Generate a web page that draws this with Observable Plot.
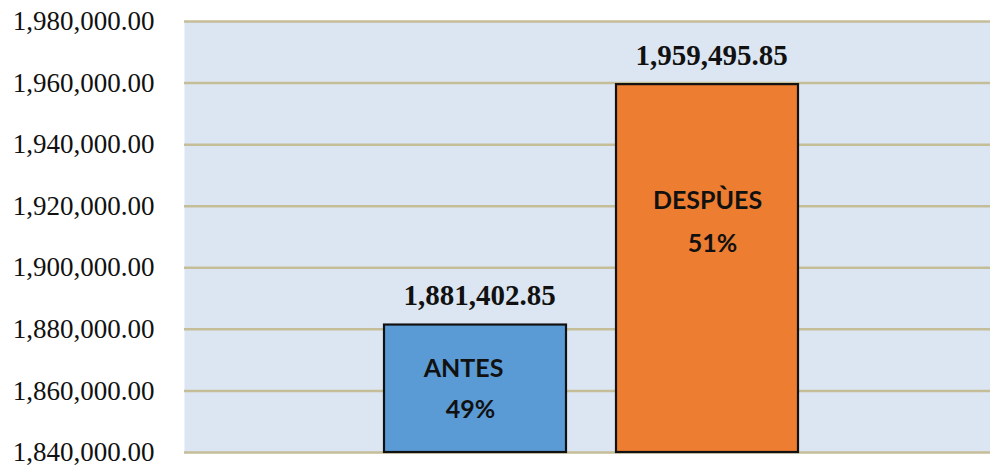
<!DOCTYPE html>
<html>
<head>
<meta charset="utf-8">
<script src="https://cdn.jsdelivr.net/npm/d3@7"></script>
<script src="https://cdn.jsdelivr.net/npm/@observablehq/plot@0.6"></script>
<style>
  html, body { margin: 0; padding: 0; background: #ffffff; }
  #chart svg { display: block; }
</style>
</head>
<body>
<div id="chart"></div>
<script>
const categories = ["ANTES", "DESPÙES"];
const values = [1881402.85, 1959495.85];
const percents = ["49%", "51%"];
const yTicks = [1840000, 1860000, 1880000, 1900000, 1920000, 1940000, 1960000, 1980000];

const data = categories.map((c, i) => ({cat: c, value: values[i], pct: percents[i]}));
const fmt = d3.format(",.2f");

const nameStyle = {fontFamily: "Lato", fontWeight: 700, fontSize: 25, fill: "#111", textAnchor: "middle"};

const chart = Plot.plot({
  width: 990,
  height: 466,
  marginLeft: 184,
  marginRight: 0,
  marginTop: 21,
  marginBottom: 14,
  style: {background: "#ffffff", overflow: "visible"},
  x: {domain: categories, range: [333.5, 849], padding: 0.217, axis: null},
  y: {domain: [1840000, 1980000], ticks: yTicks, tickFormat: fmt, label: null},
  marks: [
    Plot.frame({fill: "#dce6f2", stroke: null}),
    Plot.ruleY(yTicks, {stroke: "#c4bd97", strokeWidth: 2.5}),
    Plot.axisY({ticks: yTicks, tickFormat: fmt, tickSize: 0, tickPadding: 30, label: null,
      fontFamily: "Liberation Serif", fontSize: 27, fill: "#111"}),
    Plot.barY(data, {x: "cat", y1: 1840000, y2: "value", fill: (d) => d.cat, stroke: "#111", strokeWidth: 2.2}),
    Plot.text(data, {x: "cat", y: "value", text: (d) => fmt(d.value), dy: -29, dx: 4,
      fontFamily: "Liberation Serif", fontWeight: 700, fontSize: 29, fill: "#111"}),
    Plot.text(data.filter(d => d.cat === "ANTES"), {x: "cat", y: "value", text: "cat", dy: 44, dx: -12, ...nameStyle}),
    Plot.text(data.filter(d => d.cat === "ANTES"), {x: "cat", y: "value", text: "pct", dy: 85, dx: -5, ...nameStyle}),
    Plot.text(data.filter(d => d.cat === "DESPÙES"), {x: "cat", y: "value", text: "cat", dy: 116, dx: 0, ...nameStyle}),
    Plot.text(data.filter(d => d.cat === "DESPÙES"), {x: "cat", y: "value", text: "pct", dy: 159, dx: 5, ...nameStyle})
  ],
  color: {domain: categories, range: ["#5b9bd5", "#ed7d31"]}
});
document.getElementById("chart").appendChild(chart);
</script>
</body>
</html>
